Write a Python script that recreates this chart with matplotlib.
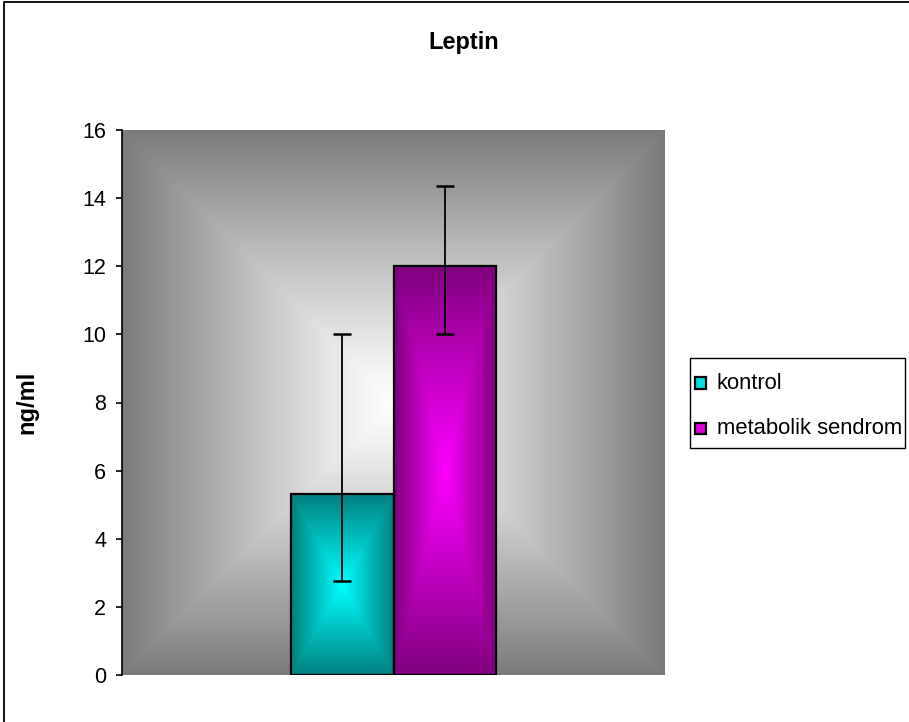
import numpy as np
import matplotlib
matplotlib.use("Agg")
import matplotlib.pyplot as plt
from matplotlib.patches import Rectangle

# ---- data ----
title = "Leptin"
ylabel = "ng/ml"
series = ["kontrol", "metabolik sendrom"]
means = [5.3, 12.0]
err_low = [2.55, 2.0]
err_high = [4.7, 2.35]
yticks = [0, 2, 4, 6, 8, 10, 12, 14, 16]

center_cols = [(0.0, 1.0, 1.0), (1.0, 0.0, 1.0)]
edge_cols = [(0.0, 0.5, 0.5), (0.5, 0.0, 0.5)]
legend_cols = ["#00e0e0", "#e000e0"]

plt.rcParams['font.family'] = ['Liberation Sans', 'DejaVu Sans']

W, H = 909, 722
fig = plt.figure(figsize=(W / 100, H / 100), dpi=100)
ax = fig.add_axes([122 / W, 1 - 675 / H, (665 - 122) / W, (675 - 130) / H])

xlim = (-0.5, 0.5)
ylim = (0, 16)
ax.set_xlim(*xlim)
ax.set_ylim(*ylim)


def box_gradient(nx, ny, c_center, c_edge, gamma=1.0):
    x = np.linspace(-1, 1, nx)
    y = np.linspace(-1, 1, ny)
    X, Y = np.meshgrid(x, y)
    t = np.maximum(np.abs(X), np.abs(Y)) ** gamma
    c_center = np.array(c_center)
    c_edge = np.array(c_edge)
    img = c_center[None, None, :] * (1 - t[..., None]) + c_edge[None, None, :] * t[..., None]
    return np.clip(img, 0, 1)


# background gradient
bg = box_gradient(543, 545, (1.0, 1.0, 1.0), (0.48, 0.48, 0.48), gamma=1.15)
ax.imshow(bg, extent=[xlim[0], xlim[1], ylim[0], ylim[1]], aspect='auto',
          zorder=0, interpolation='bilinear')

bw = 0.189
offsets = [-bw / 2, bw / 2]
for i in range(2):
    bars = ax.bar(offsets[i], means[i], width=bw, facecolor='none',
                  edgecolor='black', linewidth=1.6, zorder=3)
    r = bars[0]
    img = box_gradient(100, 300, center_cols[i], edge_cols[i])
    ax.imshow(img, extent=[r.get_x(), r.get_x() + r.get_width(), 0, r.get_height()],
              aspect='auto', zorder=2, interpolation='bilinear')
    ax.errorbar(offsets[i], means[i], yerr=[[err_low[i]], [err_high[i]]],
                fmt='none', ecolor='black', elinewidth=1.3, capsize=6.5,
                capthick=1.8, zorder=4)

ax.set_xlim(*xlim)
ax.set_ylim(*ylim)
ax.set_yticks(yticks)
ax.set_xticks([])
for s in ['top', 'right', 'bottom']:
    ax.spines[s].set_visible(False)
ax.spines['left'].set_linewidth(1.2)
ax.tick_params(axis='y', direction='out', length=4.5, width=1.2, labelsize=15.5, pad=7)

ax.set_ylabel(ylabel, fontsize=17, fontweight='bold')
ax.yaxis.set_label_coords((38 - 122) / 543, 0.5)

fig.text(464 / W, 1 - 43 / H, title, fontsize=17, fontweight='bold',
         ha='center', va='center')

# legend (drawn in figure pixel coordinates)
def fx(px):
    return px / W


def fy(py):
    return 1 - py / H


fig.patches.append(Rectangle((fx(690), fy(448)), fx(905) - fx(690), fy(358) - fy(448),
                             transform=fig.transFigure, fill=True, facecolor='white',
                             edgecolor='black', linewidth=1.0))
row_y = [383, 428]
for i in range(2):
    fig.patches.append(Rectangle((fx(695), fy(row_y[i] + 5.5)), fx(706) - fx(695),
                                 fy(row_y[i] - 5.5) - fy(row_y[i] + 5.5),
                                 transform=fig.transFigure, facecolor=legend_cols[i],
                                 edgecolor='black', linewidth=1.6))
    fig.text(fx(717), fy(row_y[i]), series[i], fontsize=15.8, ha='left', va='center')

# outer frame
fig.patches.append(Rectangle((4 / W, -0.5), 2.0, 1.5 - 1.5 / H, transform=fig.transFigure,
                             fill=False, edgecolor='black', linewidth=1.3))

fig.savefig("out.png", dpi=100)
